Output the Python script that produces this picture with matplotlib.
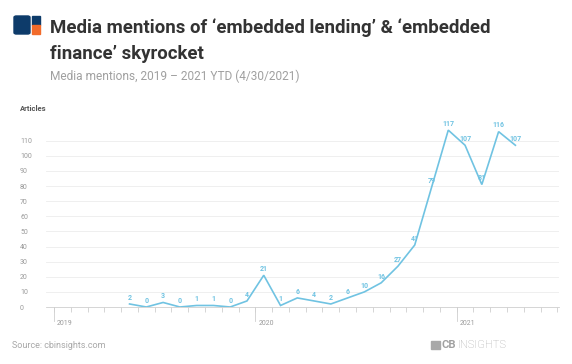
import numpy as np
import pandas as pd
import matplotlib
matplotlib.use('Agg')
import matplotlib.pyplot as plt
from matplotlib import font_manager
from matplotlib.patches import Rectangle, FancyBboxPatch
from matplotlib.transforms import blended_transform_factory

# monthly media mentions, May 2019 - Apr 2021
months = ['2019-05', '2019-06', '2019-07', '2019-08', '2019-09', '2019-10', '2019-11', '2019-12',
          '2020-01', '2020-02', '2020-03', '2020-04', '2020-05', '2020-06', '2020-07', '2020-08',
          '2020-09', '2020-10', '2020-11', '2020-12', '2021-01', '2021-02', '2021-03', '2021-04']
mentions = [2, 0, 3, 0, 1, 1, 0, 4,
            21, 1, 6, 4, 2, 6, 10, 16,
            27, 41, 79, 117, 107, 81, 116, 107]
years = ['2019', '2020', '2021']
yticks = list(range(0, 111, 10))

installed = {f.name for f in font_manager.fontManager.ttflist}
narrow = 'Liberation Sans Narrow' if 'Liberation Sans Narrow' in installed else 'Roboto'
plt.rcParams['font.family'] = ['Roboto', 'DejaVu Sans']

W, H = 572, 364
fig = plt.figure(figsize=(W / 100, H / 100), dpi=100)

def fx(px):
    return px / W

def fy(py):
    return 1 - py / H

# month index relative to Jan 2019, points sit mid-month
start = pd.Period('2019-01', 'M')
x = np.array([(pd.Period(m, 'M') - start).n for m in months]) + 0.5

line_col = '#70c3e2'
ax = fig.add_axes([fx(46), fy(307), fx(559) - fx(46), fy(125.6) - fy(307)])
ax.plot(x, mentions, color=line_col, lw=1.2, solid_joinstyle='miter')
for xi, v in zip(x, mentions):
    ax.annotate(str(v), (xi, v), xytext=(0, 4.5), textcoords='offset points',
                ha='center', va='center', fontsize=5, color=line_col, fontweight='bold')

ax.set_xlim(-0.48, 30.1)
ax.set_ylim(0, 120)
ax.set_yticks(yticks)
ax.set_yticklabels([str(t) for t in yticks], ha='left', fontsize=5, color='#9a9a9a')
ax.tick_params(axis='y', length=0, pad=18.7)
ax.grid(axis='y', color='#ececec', lw=0.6)
ax.set_axisbelow(True)

ax.set_xticks(range(0, 31))
ax.set_xticklabels([])
ax.tick_params(axis='x', length=3.5, width=0.6, color='#cfcfcf')
for m in (0, 12, 24):
    ax.plot([m, m], [0, -9], color='#cfcfcf', lw=0.6, clip_on=False)

trans = blended_transform_factory(ax.transData, ax.transAxes)
for i, yr in enumerate(years):
    ax.text(12 * i + 0.65, -0.09, yr, transform=trans, ha='center', va='center',
            fontsize=5, color='#9a9a9a')

for s in ('top', 'right', 'left'):
    ax.spines[s].set_visible(False)
ax.spines['bottom'].set_color('#cfcfcf')
ax.spines['bottom'].set_linewidth(0.6)

fig.text(fx(20), fy(108), 'Articles', fontsize=5.5, fontweight='bold', color='#555555',
         ha='left', va='center')

# header logo
navy = '#0d3b6a'
fig.patches.append(FancyBboxPatch((fx(14), fy(34)), fx(16), fy(16) - fy(34),
                                  boxstyle='round,pad=0,rounding_size=0.004',
                                  transform=fig.transFigure, color=navy))
fig.patches.append(Rectangle((fx(31.5), fy(24.5)), fx(8.5), fy(16) - fy(24.5),
                             transform=fig.transFigure, color=navy))
fig.patches.append(Rectangle((fx(31.5), fy(34)), fx(8.5), fy(25.5) - fy(34),
                             transform=fig.transFigure, color='#f26b2b'))

fig.text(fx(50), fy(33), 'Media mentions of \u2018embedded lending\u2019 & \u2018embedded',
         family=narrow, fontsize=13.4, fontweight='bold', color='#333333', ha='left', va='baseline')
fig.text(fx(50), fy(59), 'finance\u2019 skyrocket',
         family=narrow, fontsize=13.4, fontweight='bold', color='#333333', ha='left', va='baseline')
fig.text(fx(50), fy(76), 'Media mentions, 2019 \u2013 2021 YTD (4/30/2021)',
         family=narrow, fontsize=8.6, color='#a0a0a0', ha='left', va='center')

fig.text(fx(12), fy(345), 'Source: cbinsights.com', fontsize=6.5, color='#a8a8a8',
         ha='left', va='center')
fig.patches.append(Rectangle((fx(431), fy(349)), fx(9), fy(341) - fy(349),
                             transform=fig.transFigure, color='#a8a8a8'))
fig.text(fx(442), fy(345), 'CB', fontsize=8, fontweight='bold', color='#a0a0a0',
         ha='left', va='center')
fig.text(fx(458), fy(345), 'INSIGHTS', fontsize=8, fontweight='light', color='#a8a8a8',
         ha='left', va='center')

fig.savefig('out.png', dpi=100)
